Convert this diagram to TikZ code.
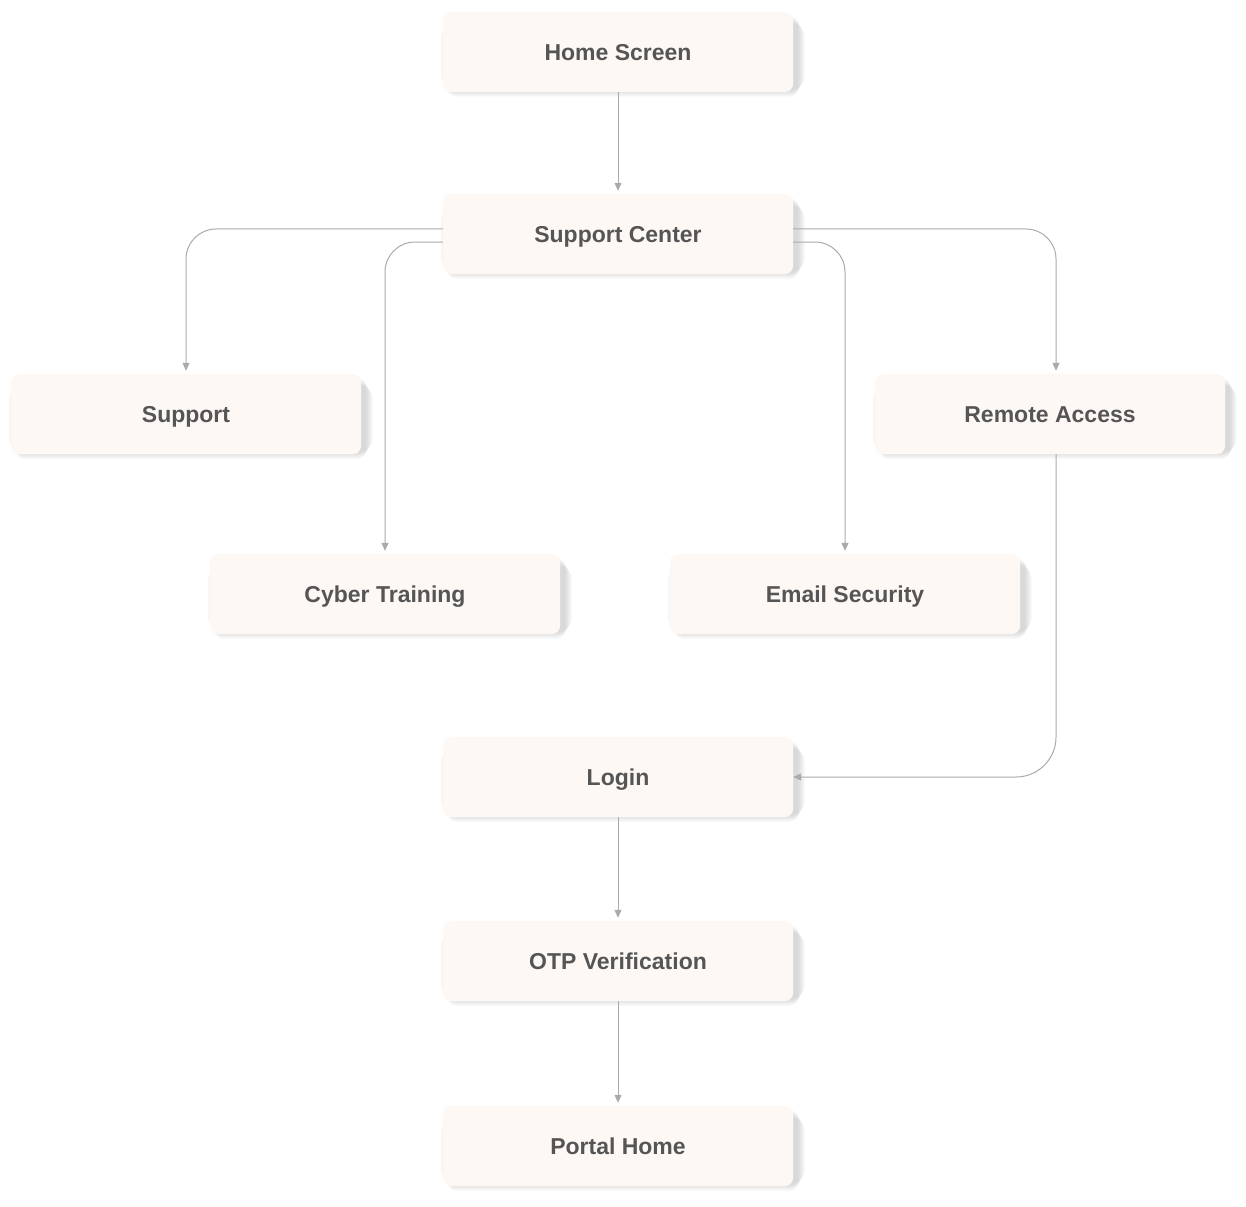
\documentclass[tikz,border=0pt]{standalone}
\usepackage{fontspec}
\setmainfont{Liberation Sans}
\usetikzlibrary{arrows.meta,backgrounds,positioning}
\definecolor{boxfill}{HTML}{FEF8F5}
\definecolor{txt}{HTML}{555555}
\definecolor{lnc}{HTML}{AAAAAA}
\tikzset{
  flowbox/.style={rectangle, rounded corners=8pt, fill=boxfill, minimum width=350pt, minimum height=80pt,
    inner sep=0pt, text height=16.5pt, text depth=0pt, text=txt, font=\fontsize{23}{27}\selectfont\bfseries},
  arr/.style={draw=lnc, line width=1pt, -{Triangle[length=8pt,width=7pt]}},
}
\newcommand{\boxshadow}[1]{%
  \foreach \k in {1,...,8}{%
    \fill[black, opacity=0.02, rounded corners=8pt+\k pt]
      ([xshift=6pt-\k pt, yshift=-6pt+\k pt]#1.south west) rectangle ([xshift=4pt+\k pt, yshift=-3pt-\k pt]#1.north east);
  }%
}
\begin{document}
\begin{tikzpicture}[x=1pt,y=-1pt]
\useasboundingbox (0,0) rectangle (1246,1206);
\node[flowbox] (home) at (618,52) {Home Screen};
\node[flowbox] (sc) at (618,234) {Support Center};
\node[flowbox] (sup) at (186,414) {Support};
\node[flowbox] (ra) at (1050,414) {Remote Access};
\node[flowbox] (cyb) at (385,594) {Cyber Training};
\node[flowbox] (ems) at (845,594) {Email Security};
\node[flowbox] (login) at (618,777) {Login};
\node[flowbox] (otp) at (618,961) {OTP Verification};
\node[flowbox] (portal) at (618,1146) {Portal Home};
\begin{pgfonlayer}{background}
\foreach \n in {home,sc,sup,ra,cyb,ems,login,otp,portal}{\boxshadow{\n}}
\end{pgfonlayer}
\draw[arr, shorten >=3pt] (home) -- (sc);
\draw[arr, rounded corners=30pt, shorten >=3pt] ([yshift=5pt]sc.west) -| (sup.north);
\draw[arr, rounded corners=30pt, shorten >=3pt] ([yshift=-8pt]sc.west) -| (cyb.north);
\draw[arr, rounded corners=30pt, shorten >=3pt] ([yshift=5pt]sc.east) -| ([xshift=6pt]ra.north);
\draw[arr, rounded corners=30pt, shorten >=3pt] ([yshift=-8pt]sc.east) -| (ems.north);
\draw[arr, rounded corners=40pt] ([xshift=6pt]ra.south) |- (login.east);
\draw[arr, shorten >=3pt] (login) -- (otp);
\draw[arr, shorten >=3pt] (otp) -- (portal);
\end{tikzpicture}
\end{document}
